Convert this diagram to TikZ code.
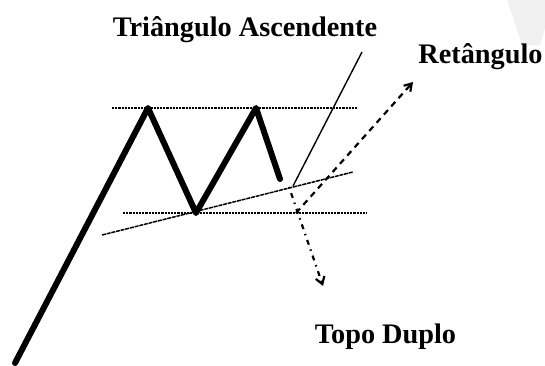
\documentclass[tikz,border=0pt]{standalone}
\usepackage{fontspec}
\setmainfont{Liberation Serif}
\usetikzlibrary{arrows.meta}
\begin{document}
\begin{tikzpicture}[x=1pt,y=-1pt,
  lbl/.style={font=\fontsize{28.3}{30}\selectfont\bfseries, anchor=base, inner sep=0pt},
  price/.style={line width=6pt, line cap=round, line join=round},
  level/.style={line width=1.6pt, dash pattern=on 2.2pt off 1pt},
  trend/.style={line width=1.5pt, dash pattern=on 4pt off 0.8pt},
  thin/.style={line width=1.4pt},
  dasharrow/.style={line width=2.2pt, dash pattern=on 6pt off 5pt, -{Straight Barb[length=7pt,width=9pt,line width=2.2pt]}},
  dotarrow/.style={line width=2.2pt, dash pattern=on 1.5pt off 5pt on 5pt off 5pt, -{Straight Barb[length=7pt,width=9pt,line width=2.2pt]}}
]
\useasboundingbox (0,0) rectangle (545,365);
\fill[gray!12] (507,0) -- (545,0) -- (545,28) -- (540,45) -- (522,45) -- cycle;

% price path
\coordinate (p0) at (15,363);
\coordinate (p1) at (148,108);
\coordinate (p2) at (196,213);
\coordinate (p3) at (256,108);
\coordinate (p4) at (280,179);
\draw[price] (p0) -- (p1) -- (p2) -- (p3) -- (p4);

% levels
\coordinate (u1) at (112,108);
\coordinate (u2) at (358,108);
\coordinate (l1) at (123,213);
\coordinate (l2) at (367,213);
\draw[level] (u1) -- (u2);
\draw[level] (l1) -- (l2);

% ascending trend line
\coordinate (t1) at (102,235);
\coordinate (t2) at (353,172);
\draw[trend] (t1) -- (t2);

% thin breakout line
\coordinate (b1) at (293,186);
\coordinate (b2) at (362,52);
\draw[thin] (b1) -- (b2);

% arrows
\coordinate (r1) at (296,213);
\coordinate (r2) at (413,82);
\draw[dasharrow] (r1) -- (r2);
\coordinate (d1) at (289,187);
\coordinate (d2) at (323,286);
\draw[dotarrow] (d1) -- (d2);

% labels
\node[lbl] (tri) at (245,36) {Triângulo Ascendente};
\node[lbl] (ret) at (480.5,63) {Retângulo};
\node[lbl] (topo) at (385.5,343) {Topo Duplo};
\end{tikzpicture}
\end{document}
